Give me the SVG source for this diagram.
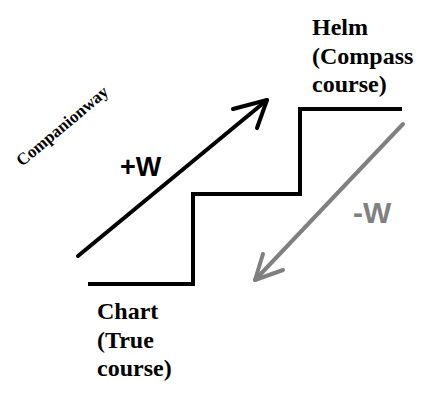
<svg xmlns="http://www.w3.org/2000/svg" width="438" height="394" viewBox="0 0 438 394">
<style>
.lbl{font-family:"Liberation Serif","Times New Roman",serif;font-weight:bold;font-size:24px;fill:#000}
.w{font-family:"Liberation Sans",Arial,sans-serif;font-weight:bold}
.stroke{fill:none;stroke-width:4;stroke-linecap:round;stroke-linejoin:round}
</style>
<rect width="438" height="394" fill="#fff"/>
<g id="stairs">
<path d="M88,284 H193 V194 H300 V109 H402" fill="none" stroke="#000" stroke-width="4"/>
</g>
<g id="connectors">
<g id="plusW">
<path class="stroke" d="M78,256 L267,100" stroke="#000"/>
<path class="stroke" d="M233,109 L267,100 L257,128" stroke="#000"/>
</g>
<g id="minusW">
<path class="stroke" d="M403,124 L255,280" stroke="#808080"/>
<path class="stroke" d="M263,254 L255,280 L283,270" stroke="#808080"/>
</g>
</g>
<g id="helm">
<text class="lbl" x="312" y="35">Helm</text>
<text class="lbl" x="312" y="64">(Compass</text>
<text class="lbl" x="312" y="92">course)</text>
</g>
<g id="chart">
<text class="lbl" x="97" y="319">Chart</text>
<text class="lbl" x="97" y="348">(True</text>
<text class="lbl" x="97" y="376">course)</text>
</g>
<g id="companionway">
<text font-family="Liberation Serif,'Times New Roman',serif" font-weight="bold" font-size="17" transform="translate(22,167) rotate(-40)">Companionway</text>
</g>
<text class="w" x="120" y="176" font-size="27" fill="#000">+W</text>
<text class="w" x="353" y="223" font-size="30" fill="#808080">-W</text>
</svg>
